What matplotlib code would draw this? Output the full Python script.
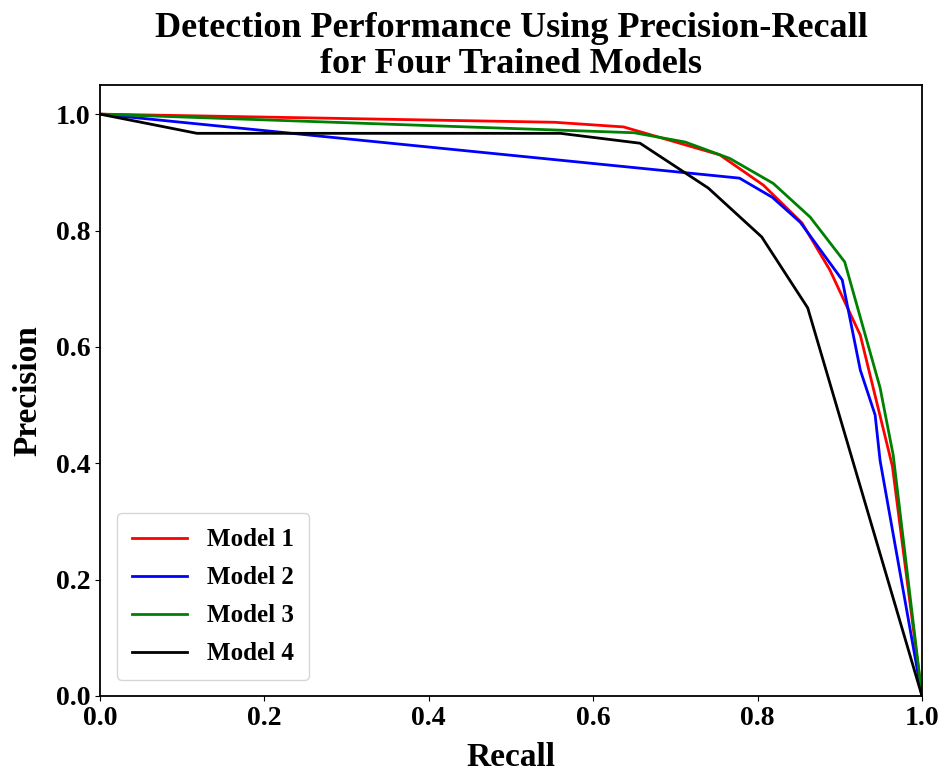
import matplotlib
matplotlib.use('Agg')
import matplotlib.pyplot as plt

plt.rcParams['font.family'] = ['Liberation Serif', 'DejaVu Serif']
plt.rcParams['font.weight'] = 'bold'

# recall / precision points
recall_1 = [0.0, 0.553, 0.637, 0.754, 0.807, 0.854, 0.888, 0.925, 0.964, 1.0]
precision_1 = [1.0, 0.986, 0.978, 0.930, 0.878, 0.813, 0.732, 0.620, 0.395, 0.0]

recall_2 = [0.0, 0.778, 0.818, 0.852, 0.903, 0.925, 0.943, 0.949, 1.0]
precision_2 = [1.0, 0.890, 0.857, 0.814, 0.715, 0.560, 0.483, 0.405, 0.0]

recall_3 = [0.0, 0.650, 0.712, 0.766, 0.819, 0.864, 0.906, 0.949, 0.965, 1.0]
precision_3 = [1.0, 0.968, 0.952, 0.924, 0.881, 0.823, 0.746, 0.530, 0.414, 0.0]

recall_4 = [0.0, 0.118, 0.560, 0.657, 0.740, 0.805, 0.861, 1.0]
precision_4 = [1.0, 0.967, 0.967, 0.950, 0.873, 0.789, 0.667, 0.0]

fig = plt.figure(figsize=(9.46, 7.78), dpi=100)
ax = fig.add_axes([0.1057, 0.1054, 0.8689, 0.7853])

ax.plot(recall_1, precision_1, color='red', lw=2, label='Model 1')
ax.plot(recall_2, precision_2, color='blue', lw=2, label='Model 2')
ax.plot(recall_3, precision_3, color='green', lw=2, label='Model 3')
ax.plot(recall_4, precision_4, color='black', lw=2, label='Model 4')

ax.set_xlim(0, 1.0)
ax.set_ylim(0, 1.05)
ax.set_xticks([0.0, 0.2, 0.4, 0.6, 0.8, 1.0])
ax.set_yticks([0.0, 0.2, 0.4, 0.6, 0.8, 1.0])
ax.tick_params(labelsize=20)
for s in ax.spines.values():
    s.set_linewidth(1.3)
ax.set_xlabel('Recall', fontsize=24, fontweight='bold', labelpad=8)
ax.set_ylabel('Precision', fontsize=24, fontweight='bold', labelpad=9)
ax.set_title('Detection Performance Using Precision-Recall\nfor Four Trained Models',
             fontsize=26, fontweight='bold', linespacing=1.12, pad=9)
ax.legend(loc='lower left', fontsize=18, borderpad=0.6, handlelength=2.2,
          labelspacing=0.6, bbox_to_anchor=(0.005, 0.005))

fig.savefig('out.png', dpi=100)
